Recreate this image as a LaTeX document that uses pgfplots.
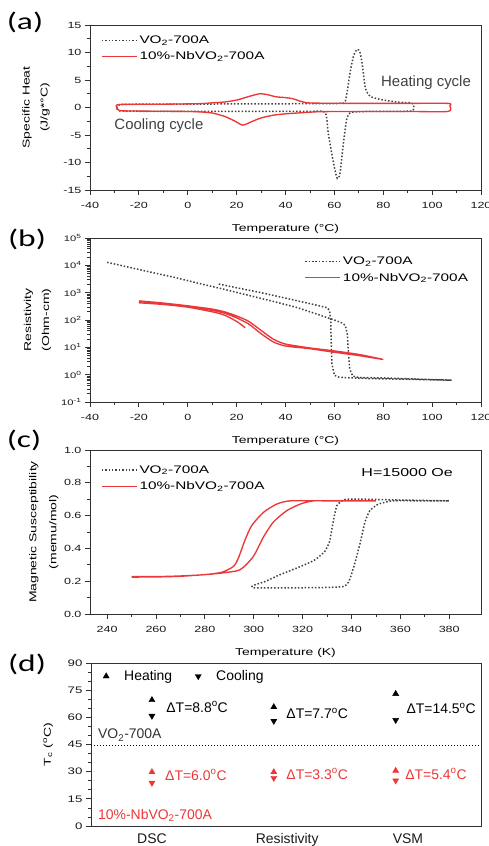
\documentclass[border=0pt]{standalone}
\usepackage{fontspec}
\setmainfont{Liberation Sans}[FakeStretch=1.4]
\newfontfamily\plain{Liberation Sans}
\newfontfamily\panelfont{Carlito}[FakeStretch=1.4]
\usepackage{pgfplots}
\pgfplotsset{compat=1.18}
\definecolor{myred}{RGB}{235,55,55}
\definecolor{mygray}{RGB}{65,65,65}
\definecolor{axgray}{RGB}{50,50,50}
\pgfplotsset{
 panel/.style={
  scale only axis, width=391bp,
  axis line style={axgray, line width=0.9bp},
  tick align=outside, xtick pos=bottom, ytick pos=left,
  major tick length=5bp, minor tick length=3bp,
  tick style={axgray, line width=0.8bp},
  tick label style={font=\fontsize{9}{10}\selectfont, text=black!90},
  /pgf/number format/assume math mode=true,
  label style={font=\fontsize{10.5}{12}\selectfont},
  every axis x label/.style={at={(axis description cs:0.5,-0.235)}, anchor=center},
  legend style={draw=none, fill=none, font=\fontsize{11}{13}\selectfont, row sep=3bp},
  legend cell align=left,
 },
 numx/.style={xticklabel style={yshift=-4bp}},
 linelegend/.style={legend image code/.code={\draw[##1] (0bp,0bp) -- (35bp,0bp);}},
 vo/.style={mygray, line width=1.5bp, dash pattern=on 1.5bp off 1.9bp},
 nb/.style={myred, line width=1.35bp},
}
\begin{document}
\begin{tikzpicture}
\useasboundingbox (0,0) rectangle (489bp,-846bp);
% ---------------- (a)
\begin{axis}[panel, numx, linelegend, at={(90bp,-190bp)}, anchor=south west, height=165bp,
 xmin=-40, xmax=120, ymin=-15, ymax=15,
 xtick={-40,-20,...,120}, ytick={-15,-10,...,15},
 minor x tick num=1, minor y tick num=1,
 xlabel={Temperature (°C)},
 ylabel={Specific Heat\\[6bp](J/g*°C)},
 every axis y label/.style={at={(axis description cs:-0.138,0.5)}, rotate=90, anchor=center, align=center},
 legend style={at={(0.02,0.96)}, anchor=north west}]
\addplot[vo, smooth, tension=0.4] coordinates {
 (-29,-0.1) (-28,0.5) (-20,0.6) (0,0.62) (20,0.65) (40,0.68) (55,0.7) (62,0.75) (64.5,1.2)
 (66.6,6.8) (68,9.6) (69.4,10.6) (70.5,10.0) (71.4,7.9) (72.7,3.5) (74.8,2.0) (79.6,1.4) (86.4,0.95) (91.5,0.85) (92.5,0.2)
 (92,-0.6) (85,-0.7) (75,-0.7) (69,-0.8) (66.4,-1.0) (65,-2.2) (63.7,-6.5) (62.3,-12.0) (61.2,-12.9) (60.2,-11.3)
 (58.9,-8.3) (57.5,-4.7) (56.2,-0.9) (50,-0.7) (30,-0.72) (0,-0.7) (-20,-0.68) (-28,-0.6) (-29,-0.1)};
\addlegendentry{VO\textsubscript{2}-700A}
\addplot[nb, smooth, tension=0.4] coordinates {
 (-29,0.1) (-28,0.55) (-10,0.6) (5,0.7) (10,0.85) (15,1.0) (20,1.35) (25,2.0) (29.5,2.5) (33,2.3) (36,1.95) (40,1.8)
 (43,1.6) (46,1.15) (49,0.85) (55,0.78) (70,0.75) (90,0.75) (106.5,0.75) (107.3,0.3)
 (106.5,-0.72) (90,-0.72) (70,-0.72) (55,-0.75) (50,-0.85) (45,-1.0) (40,-1.15) (35,-1.4) (30,-1.9) (26,-2.6) (22.5,-3.2)
 (19,-2.4) (15,-1.6) (10,-1.0) (5,-0.8) (0,-0.72) (-20,-0.65) (-28,-0.55) (-29,0.1)};
\addlegendentry{10\%-NbVO\textsubscript{2}-700A}
\node[font=\plain\fontsize{15}{17}\selectfont, text=black!75] at (axis cs:97.5,4.45) {Heating cycle};
\node[font=\plain\fontsize{15}{17}\selectfont, text=black!75] at (axis cs:-11.8,-3.36) {Cooling cycle};
\end{axis}
% ---------------- (b)
\begin{axis}[panel, numx, linelegend, at={(90bp,-402bp)}, anchor=south west, height=164bp,
 xmin=-40, xmax=120, ymode=log, ymin=0.1, ymax=100000,
 xtick={-40,-20,...,120}, minor x tick num=1,
 ytick={0.1,1,10,100,1000,10000,100000},
 yticklabels={10\textsuperscript{-1},10\textsuperscript{0},10\textsuperscript{1},10\textsuperscript{2},10\textsuperscript{3},10\textsuperscript{4},10\textsuperscript{5}},
 yticklabel style={font=\fontsize{8}{9}\selectfont},
 xlabel={Temperature (°C)},
 ylabel={Resistivity\\[6bp](Ohm-cm)},
 every axis y label/.style={at={(axis description cs:-0.134,0.5)}, rotate=90, anchor=center, align=center},
 legend style={at={(0.98,0.91)}, anchor=north east}]
\addplot[vo] coordinates {
 (-33,12900) (-25,8900) (-15,5600) (-5,3550) (5,2140) (15,1320) (25,794) (35,479) (45,282) (55,141) (60,100) (63,79)
 (64.5,63) (65.3,30) (65.8,6) (66.3,1.6) (67.5,0.89) (70,0.79) (80,0.76) (90,0.71) (100,0.66) (108,0.63)
 (100,0.65) (90,0.68) (80,0.7) (70,0.74) (62,0.8) (60,0.95) (59,2.5) (58.7,16) (58.5,100) (58,224) (57,282) (50,398)
 (40,631) (30,1000) (20,1510) (12,2140)};
\addlegendentry{VO\textsubscript{2}-700A}
\addplot[nb, smooth, tension=0.4] coordinates {
 (-20,468) (-10,398) (0,316) (10,224) (15,178) (20,120) (25,71) (30,31.6) (35,15.8) (40,11.2) (50,8.9) (60,6.6) (70,5.0) (80,3.6)
 (70,5.5) (60,7.4) (50,9.5) (40,13.2) (35,20) (30,41.7) (25,89) (20,141) (15,200) (10,251) (0,331) (-10,417) (-20,501)};
\addlegendentry{10\%-NbVO\textsubscript{2}-700A}
\addplot[nb, smooth, tension=0.4, forget plot] coordinates {
 (-20,427) (-10,370) (0,295) (10,200) (15,151) (20,89) (23.5,52)};
\end{axis}
% ---------------- (c)
\begin{axis}[panel, numx, linelegend, at={(90bp,-614bp)}, anchor=south west, height=164bp,
 xmin=233, xmax=393, ymin=0, ymax=1,
 xtick={240,260,...,380}, ytick={0,0.2,...,1.0},
 minor x tick num=1, minor y tick num=1,
 yticklabel style={/pgf/number format/.cd, fixed, fixed zerofill, precision=1},
 xlabel={Temperature (K)},
 ylabel={Magnetic Susceptibility\\[8bp](memu/mol)},
 every axis y label/.style={at={(axis description cs:-0.118,0.5)}, rotate=90, anchor=center, align=center},
 legend style={at={(0.02,0.93)}, anchor=north west}]
\addplot[vo, smooth, tension=0.3] coordinates {
 (300,0.16) (310,0.16) (320,0.16) (330,0.162) (337,0.168) (339,0.2) (341,0.29) (343.5,0.43) (345.5,0.56) (347.5,0.63)
 (351,0.67) (357,0.69) (370,0.69) (380,0.69) (360,0.695) (345,0.70) (338,0.70) (336,0.69) (334,0.66) (333,0.6)
 (332,0.52) (331,0.44) (329,0.38) (325,0.33) (320,0.295) (315,0.265) (310,0.235) (305,0.2) (300,0.175) (298.5,0.16)};
\addlegendentry{VO\textsubscript{2}-700A}
\addplot[nb, smooth, tension=0.4] coordinates {
 (250,0.225) (260,0.226) (270,0.23) (280,0.24) (287,0.25) (294.4,0.27) (299.8,0.35) (304,0.47) (308,0.56) (313.5,0.63)
 (319,0.67) (324.5,0.69) (335,0.69) (350,0.69) (330,0.69) (315,0.69) (309.4,0.67) (304,0.62) (299.2,0.54) (296.4,0.45)
 (293.7,0.34) (291.7,0.29) (287,0.255) (280,0.24) (270,0.232) (260,0.228) (250,0.228)};
\addlegendentry{10\%-NbVO\textsubscript{2}-700A}
\node[font=\fontsize{11.5}{13}\selectfont] at (axis cs:362.8,0.86) {H=15000 Oe};
\end{axis}
% ---------------- (d)
\begin{axis}[panel, width=390bp, at={(91bp,-826bp)}, anchor=south west, height=163bp,
 xmin=0.5, xmax=3.7, ymin=0, ymax=90,
 ytick={0,15,...,90}, minor y tick num=2,
 xtick={1,2.11,3.1}, xticklabels={DSC,Resistivity,VSM},
 xticklabel style={font=\plain\fontsize{14}{16}\selectfont, yshift=1bp},
 major x tick style={draw=none},
 yticklabel style={font=\fontsize{9.5}{11}\selectfont},
 ylabel={T\textsubscript{c} (\textsuperscript{o}C)},
 every axis y label/.style={at={(axis description cs:-0.110,0.5)}, rotate=90, anchor=center},
 legend columns=2,
 legend image code/.code={\path[draw=none] (-12bp,0bp) -- (16bp,0bp); \draw[#1] plot coordinates {(0bp,0bp)};},
 legend style={at={(0.0,0.98)}, anchor=north west, font=\plain\fontsize{14}{16}\selectfont,
   /tikz/every even column/.append style={column sep=12bp}}]
\addplot[only marks, mark=triangle*, mark size=3.5bp, black] coordinates {(1,69.6) (2,65.7) (3,73)};
\addlegendentry{Heating}
\addplot[only marks, mark=triangle*, mark size=3.5bp, black, mark options={rotate=180}] coordinates {(1,60.8) (2,58) (3,58.5)};
\addlegendentry{Cooling}
\addplot[only marks, mark=triangle*, mark size=3.5bp, myred, forget plot] coordinates {(1,29.8) (2,29.8) (3,30.5)};
\addplot[only marks, mark=triangle*, mark size=3.5bp, myred, mark options={rotate=180}, forget plot] coordinates {(1,23.8) (2,26.5) (3,25.1)};
\addplot[black, line width=1.3bp, dash pattern=on 1.3bp off 1.7bp, forget plot] coordinates {(0.5,44.5) (3.7,44.5)};
\begin{scope}[every node/.style={font=\plain\fontsize{14}{16}\selectfont, anchor=west}]
\node at (axis cs:1.09,65.7) {ΔT=8.8\textsuperscript{o}C};
\node at (axis cs:2.075,62.2) {ΔT=7.7\textsuperscript{o}C};
\node at (axis cs:3.06,65) {ΔT=14.5\textsuperscript{o}C};
\node[text=myred] at (axis cs:1.08,28.2) {ΔT=6.0\textsuperscript{o}C};
\node[text=myred] at (axis cs:2.075,28.7) {ΔT=3.3\textsuperscript{o}C};
\node[text=myred] at (axis cs:3.05,28.7) {ΔT=5.4\textsuperscript{o}C};
\node[text=black!80] at (axis cs:0.53,50.2) {VO\textsubscript{2}-700A};
\node[text=myred] at (axis cs:0.53,6) {10\%-NbVO\textsubscript{2}-700A};
\end{scope}
\end{axis}
% panel labels
\node[font=\panelfont\fontsize{24}{24}\selectfont] at (25bp,-22bp) {(a)};
\node[font=\panelfont\fontsize{24}{24}\selectfont] at (27bp,-239bp) {(b)};
\node[font=\panelfont\fontsize{24}{24}\selectfont] at (24bp,-440bp) {(c)};
\node[font=\panelfont\fontsize{24}{24}\selectfont] at (27bp,-664bp) {(d)};
\end{tikzpicture}
\end{document}
